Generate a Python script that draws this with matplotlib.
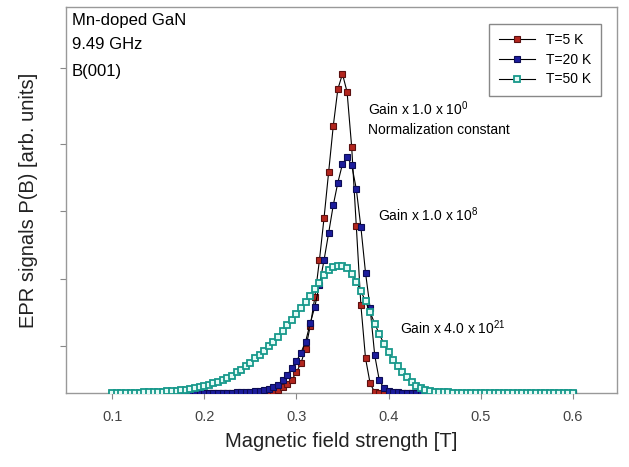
import numpy as np
import matplotlib
matplotlib.use("Agg")
import matplotlib.pyplot as plt

plt.rcParams['font.family'] = ['Liberation Sans', 'DejaVu Sans']

# Magnetic field grid [T]
field = np.linspace(0.1, 0.6, 101)

# EPR signal (normalised), 10 values per row
p_5k = [
    0, 0, 0, 0, 0, 0, 0, 0, 0, 0,
    0, 0, 0, 0, 0, 0, 0, 0, 0, 0,
    0, 0, 0, 0, 0, 0, 0, 0, 0, 0.001,
    0.001, 0.002, 0.002, 0.003, 0.004, 0.007, 0.011, 0.018, 0.028, 0.042,
    0.065, 0.095, 0.140, 0.210, 0.300, 0.417, 0.549, 0.693, 0.837, 0.953,
    1.000, 0.944, 0.771, 0.524, 0.276, 0.110, 0.031, 0.003, 0, 0,
    0, 0, 0, 0, 0, 0, 0, 0, 0, 0,
    0, 0, 0, 0, 0, 0, 0, 0, 0, 0,
    0, 0, 0, 0, 0, 0, 0, 0, 0, 0,
    0, 0, 0, 0, 0, 0, 0, 0, 0, 0,
    0,
]
p_20k = [
    0, 0, 0, 0, 0, 0, 0, 0, 0, 0,
    0, 0, 0, 0, 0.001, 0.001, 0.001, 0.001, 0.001, 0.001,
    0.001, 0.001, 0.001, 0.001, 0.001, 0.002, 0.002, 0.003, 0.003, 0.004,
    0.005, 0.006, 0.008, 0.010, 0.013, 0.018, 0.025, 0.040, 0.057, 0.078,
    0.100, 0.127, 0.162, 0.219, 0.271, 0.340, 0.417, 0.502, 0.589, 0.660,
    0.718, 0.740, 0.715, 0.640, 0.520, 0.378, 0.267, 0.119, 0.040, 0.016,
    0.008, 0.005, 0.003, 0.002, 0.001, 0.001, 0, 0, 0, 0,
    0, 0, 0, 0, 0, 0, 0, 0, 0, 0,
    0, 0, 0, 0, 0, 0, 0, 0, 0, 0,
    0, 0, 0, 0, 0, 0, 0, 0, 0, 0,
    0,
]
p_50k = [
    0.001, 0.001, 0.001, 0.001, 0.002, 0.002, 0.002, 0.003, 0.003, 0.004,
    0.004, 0.005, 0.006, 0.007, 0.008, 0.009, 0.011, 0.013, 0.015, 0.018,
    0.022, 0.027, 0.031, 0.035, 0.041, 0.047, 0.055, 0.065, 0.074, 0.085,
    0.096, 0.109, 0.120, 0.132, 0.147, 0.161, 0.177, 0.194, 0.213, 0.230,
    0.249, 0.268, 0.287, 0.305, 0.325, 0.346, 0.370, 0.385, 0.395, 0.400,
    0.400, 0.392, 0.375, 0.350, 0.320, 0.288, 0.254, 0.218, 0.185, 0.155,
    0.128, 0.105, 0.085, 0.066, 0.050, 0.035, 0.024, 0.015, 0.010, 0.007,
    0.005, 0.004, 0.003, 0.003, 0.002, 0.002, 0.002, 0.002, 0.001, 0.001,
    0.001, 0.001, 0.001, 0.001, 0.001, 0.001, 0.001, 0.001, 0.001, 0.001,
    0.001, 0.001, 0.001, 0.001, 0.001, 0.001, 0.001, 0.001, 0.001, 0.001,
    0.001,
]

series_labels = ['T=5 K', 'T=20 K', 'T=50 K']
x_ticks = [0.1, 0.2, 0.3, 0.4, 0.5, 0.6]
y_ticks = [0.147, 0.357, 0.57, 0.78, 1.02]

fig = plt.figure(figsize=(6.29, 4.67), dpi=100)
ax = fig.add_axes([0.105, 0.158, 0.876, 0.827])

ax.plot(field, p_5k, '-', color='black', lw=0.8, marker='s', ms=4.2,
        mfc='#b3261e', mec='#5c1010', mew=0.8, label=series_labels[0], zorder=3)
ax.plot(field, p_20k, '-', color='black', lw=0.8, marker='s', ms=4.2,
        mfc='#1c1c9c', mec='#0c0c55', mew=0.8, label=series_labels[1], zorder=4)
ax.plot(field, p_50k, '-', color='black', lw=0.8, marker='s', ms=4.0,
        mfc='#e6fbf7', mec='#17998b', mew=1.3, label=series_labels[2], zorder=5)

ax.set_xlim(0.05, 0.648)
ax.set_ylim(0, 1.21)
ax.set_xticks(x_ticks)
ax.set_xticklabels([f'{t:.1f}' for t in x_ticks])
ax.set_yticks(y_ticks)
ax.set_yticklabels([])
ax.tick_params(direction='out', length=4, width=0.8, colors='#888888',
               labelcolor='#444444', labelsize=10.5, pad=8)
for s in ax.spines.values():
    s.set_color('#999999')
    s.set_linewidth(1.0)

ax.set_xlabel('Magnetic field strength [T]', fontsize=14.5, color='#222222', labelpad=6)
ax.set_ylabel('EPR signals P(B) [arb. units]', fontsize=14.5, color='#222222', labelpad=8)

# sample info, top left
ax.text(0.011, 0.966, 'Mn-doped GaN', transform=ax.transAxes, fontsize=12, va='center')
ax.text(0.011, 0.902, '9.49 GHz', transform=ax.transAxes, fontsize=12, va='center')
ax.text(0.011, 0.832, 'B(001)', transform=ax.transAxes, fontsize=12, va='center')

# gain annotations
ax.text(0.378, 0.89, r'Gain x 1.0 x 10$^{\mathregular{0}}$', fontsize=10, va='center')
ax.text(0.378, 0.824, 'Normalization constant', fontsize=10, va='center')
ax.text(0.3885, 0.56, r'Gain x 1.0 x 10$^{\mathregular{8}}$', fontsize=10, va='center')
ax.text(0.412, 0.206, r'Gain x 4.0 x 10$^{\mathregular{21}}$', fontsize=10, va='center')

leg = ax.legend(loc='upper right', bbox_to_anchor=(0.984, 0.975), fontsize=10,
                fancybox=False, framealpha=1, edgecolor='#888888',
                handlelength=2.6, borderpad=0.7, labelspacing=0.4)
leg.get_frame().set_linewidth(1.0)

fig.savefig('out.png', dpi=100)
